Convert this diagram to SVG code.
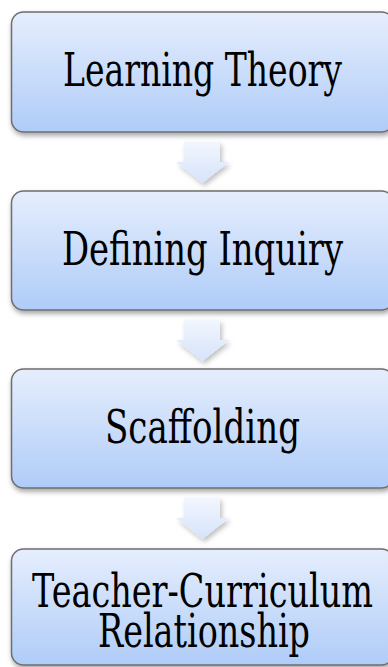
<svg xmlns="http://www.w3.org/2000/svg" width="388" height="667" viewBox="0 0 388 667">
<defs>
<linearGradient id="boxg" x1="0" y1="0" x2="0" y2="1">
<stop offset="0" stop-color="#e6eefd"/>
<stop offset="1" stop-color="#afccf8"/>
</linearGradient>
<linearGradient id="arrg" x1="0" y1="0" x2="0" y2="1">
<stop offset="0" stop-color="#f2f6fe"/>
<stop offset="1" stop-color="#d6e3fb"/>
</linearGradient>
<filter id="sh" x="-10%" y="-10%" width="120%" height="130%">
<feDropShadow dx="1" dy="3" stdDeviation="2.5" flood-color="#000" flood-opacity="0.35"/>
</filter>
<filter id="ash" x="-30%" y="-30%" width="160%" height="160%">
<feDropShadow dx="2" dy="3" stdDeviation="2.5" flood-color="#000" flood-opacity="0.25"/>
</filter>
</defs>
<style>
.box{fill:url(#boxg);stroke:#6e6e6e;stroke-width:1.5;filter:url(#sh)}
.arr{fill:url(#arrg);filter:url(#ash)}
.t{font-family:"DejaVu Serif",serif;font-size:46px;fill:#000;text-anchor:middle}
</style>
<rect width="388" height="667" fill="#fff"/>
<g id="connectors">
<path class="arr" d="M184,142 H220 V162 H229 L202.5,183 L176,162 H184 Z"/>
<path class="arr" d="M184,320 H220 V340 H229 L202.5,361 L176,340 H184 Z"/>
<path class="arr" d="M184,498 H220 V518 H229 L202.5,539 L176,518 H184 Z"/>
</g>
<g id="node1">
<rect class="box" x="11.5" y="12" width="382" height="120" rx="12"/>
<text class="t" x="202.5" y="86" textLength="279" lengthAdjust="spacingAndGlyphs">Learning Theory</text>
</g>
<g id="node2">
<rect class="box" x="11.5" y="191" width="382" height="119" rx="12"/>
<text class="t" x="202.5" y="265" textLength="281" lengthAdjust="spacingAndGlyphs">Defining Inquiry</text>
</g>
<g id="node3">
<rect class="box" x="11.5" y="369" width="382" height="119" rx="12"/>
<text class="t" x="202.5" y="443" textLength="195" lengthAdjust="spacingAndGlyphs">Scaffolding</text>
</g>
<g id="node4">
<rect class="box" x="11.5" y="549" width="382" height="116" rx="12"/>
<text class="t" x="202.5" y="607" textLength="341" lengthAdjust="spacingAndGlyphs">Teacher-Curriculum</text>
<text class="t" x="204" y="647" textLength="212" lengthAdjust="spacingAndGlyphs">Relationship</text>
</g>
</svg>
